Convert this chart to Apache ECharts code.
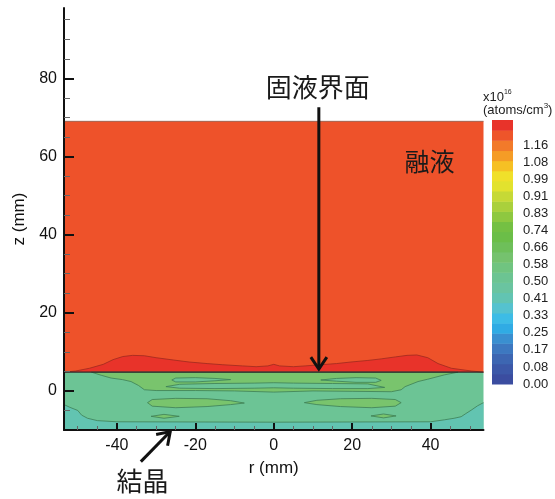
<!DOCTYPE html>
<html><head><meta charset="utf-8">
<script src="https://cdn.jsdelivr.net/npm/echarts@6/dist/echarts.min.js"></script>
<style>html,body{margin:0;padding:0;background:#fff}#c{width:555px;height:499px}</style>
</head><body><div id="c"></div>
<script>
// ---------- axes ----------
const rRange = [-53.5, 53.5];
const zRange = [-10, 98];
const rMajorTicks = [-40, -20, 0, 20, 40];
const rMinorTicks = [-50, -45, -35, -30, -25, -15, -10, -5, 5, 10, 15, 25, 30, 35, 45, 50];
const zMajorTicks = [0, 20, 40, 60, 80];
const zMinorTicks = [-5, 5, 10, 15, 25, 30, 35, 45, 50, 55, 65, 70, 75, 85, 90, 95];

// ---------- contour regions (r mm, z mm) ----------
const meltTopZ = 69;
const interfaceZ = 4.8;
const crystalBottomZ = -10;
const bumpCurve = [[-53.5,4.8],[-50.5,5.1],[-47,5.8],[-43.5,6.8],[-41,8.0],[-38.5,8.8],[-36,9.1],[-33,9.0],[-30,8.5],[-25.5,7.9],[-21.6,7.4],[-17,7.0],[-13,6.7],[-8,6.4],[-4.5,6.2],[-1.5,6.4],[0,6.8],[1.5,6.4],[5,6.2],[8,6.4],[12,6.7],[16,7.0],[19.7,7.4],[24,7.8],[27.4,8.2],[31,8.7],[34,9.1],[36.5,9.2],[39.3,8.5],[41.9,7.0],[45.3,5.8],[50.4,5.1],[53.5,4.8]];
const tealTop = [[-53.5,-3.5],[-52,-4.2],[-50,-5.0],[-49,-6.2],[-47.5,-7.0],[-45,-7.6],[-40,-7.9],[0,-8.0],[40,-7.9],[43.5,-7.4],[46,-7.0],[47.8,-6.6],[49,-5.8],[50.4,-4.9],[52,-3.8],[53.5,-3.0]];
const band1Lower = [[-46.5,4.8],[-44,4.0],[-41.5,3.3],[-38.6,2.9],[-36.4,2.4],[-34.5,1.4],[-33,0.3],[-30,0.1],[-20,0.1],[-10,0],[0,-0.3],[10,0],[20,-0.1],[30,-0.2],[32.5,0.3],[33.5,1.1],[36.8,2.4],[39.3,3.0],[43.5,4.1],[47,4.8]];
const lensUpperLeft = [[-26,2.8],[-25,3.3],[-20,3.4],[-15,3.2],[-11,2.9],[-15,2.6],[-20,2.3],[-25,2.3]];
const lensUpperRight = [[12,2.8],[16,3.2],[21,3.4],[26,3.3],[27.4,2.7],[26,2.2],[21,2.2],[16,2.5]];
const lensMiddle = [[-27.5,1.1],[-24,1.7],[-15,1.9],[-5,2.0],[0,2.1],[5,2.0],[15,1.9],[24,1.8],[28.3,0.9],[24,0.6],[15,0.6],[5,0.7],[0,0.8],[-5,0.7],[-15,0.6],[-24,0.7]];
const lensLowLeft = [[-32.2,-3.0],[-31,-2.2],[-25,-1.9],[-17,-2.0],[-11,-2.5],[-7.5,-3.1],[-11,-3.5],[-17,-4.0],[-25,-4.3],[-31,-3.9]];
const lensLowRight = [[7.8,-3.0],[11,-2.4],[17,-2.0],[25,-1.9],[31,-2.2],[32.5,-3.0],[31,-3.9],[25,-4.3],[17,-4.0],[11,-3.5]];
const lensSmallLeft = [[-31.3,-6.5],[-28,-6.0],[-24.1,-6.5],[-28,-7.0]];
const lensSmallRight = [[24.8,-6.4],[28,-5.9],[31.2,-6.4],[28,-6.9]];

// ---------- colour bar ----------
const cbEdges = [0,0.049,0.098,0.148,0.197,0.246,0.295,0.344,0.394,0.443,0.492,0.541,0.590,0.640,0.689,0.738,0.787,0.836,0.885,0.935,0.984,1.033,1.082,1.131,1.181,1.230,1.279];
const cbColors = ['#3B4DA0','#3C58A8','#3D66B2','#3D78C0','#3A8FD0','#30ABE4','#3DBCE6','#55C2CF','#62C4B2','#6AC4A0','#6CC492','#70C480','#75C26E','#6EBF5A','#6BBE48','#74C043','#8EC840','#AAD03C','#C6D936','#E2E22E','#F0E02A','#F6C024','#F59C26','#F27A2A','#EE552A','#E8332A'];
const cbTickValues = [0,0.0827,0.1654,0.2481,0.3308,0.4135,0.4962,0.5789,0.6616,0.7443,0.827,0.9097,0.9924,1.0751,1.1578];
const cbTickLabels = ['0.00','0.08','0.17','0.25','0.33','0.41','0.50','0.58','0.66','0.74','0.83','0.91','0.99','1.08','1.16'];

// ---------- annotations (data coords) ----------
const arrowInterface = [[11.5,72.6],[11.5,5.6]];
const labelInterfacePos = [11.2,77.8];
const labelMeltPos = [39.7,58.6];
const arrowCrystal = [[-33.9,-18.1],[-26.4,-10.4]];
const labelCrystalPos = [-33.5,-23];

// ---------- styles ----------
const C = {
  melt:'#EE522A', bump:'#E8332A', green:'#6CC495', teal:'#62C4B1', light:'#79C46D',
  edge:'#3E7F55', redEdge:'#9E2A1E'
};
const FONT = '"Liberation Sans", Arial, sans-serif';
const CJK = '"Noto Sans CJK JP", "Noto Sans CJK SC", sans-serif';

function rect(r0, r1, z0, z1){ return [[r0,z0],[r1,z0],[r1,z1],[r0,z1]]; }

const regions = [
  {pts: rect(rRange[0], rRange[1], interfaceZ, meltTopZ), fill: C.melt, stroke: null},
  {pts: bumpCurve.concat([[rRange[1],interfaceZ],[rRange[0],interfaceZ]]), fill: C.bump, stroke: null},
  {pts: rect(rRange[0], rRange[1], crystalBottomZ, interfaceZ), fill: C.green, stroke: null},
  {pts: tealTop.concat([[rRange[1],crystalBottomZ],[rRange[0],crystalBottomZ]]), fill: C.teal, stroke: null},
  {pts: band1Lower, fill: C.light, stroke: C.edge},
  {pts: lensUpperLeft, fill: C.green, stroke: C.edge},
  {pts: lensUpperRight, fill: C.green, stroke: C.edge},
  {pts: lensMiddle, fill: C.green, stroke: C.edge},
  {pts: lensLowLeft, fill: C.light, stroke: C.edge},
  {pts: lensLowRight, fill: C.light, stroke: C.edge},
  {pts: lensSmallLeft, fill: C.light, stroke: C.edge},
  {pts: lensSmallRight, fill: C.light, stroke: C.edge}
];
const edgeLines = [
  {pts: bumpCurve, stroke: C.redEdge, width: 0.8},
  {pts: tealTop, stroke: C.edge, width: 0.8},
  {pts: [[rRange[0], interfaceZ], [rRange[1], interfaceZ]], stroke: '#2a2a2a', width: 1.2},
  {pts: [[rRange[0], meltTopZ], [rRange[1], meltTopZ]], stroke: '#8a5a4a', width: 0.8}
];

const regionSeries = regions.map((reg) => ({
  type: 'custom', xAxisIndex: 0, yAxisIndex: 0, silent: true, z: 1,
  data: reg.pts,
  renderItem: (params, api) => {
    if (params.dataIndex !== 0) return null;
    return {
      type: 'polygon',
      shape: {points: reg.pts.map(p => api.coord(p))},
      style: {fill: reg.fill, stroke: reg.stroke || 'none', lineWidth: reg.stroke ? 0.8 : 0}
    };
  }
}));
const lineSeries = edgeLines.map((ln) => ({
  type: 'custom', xAxisIndex: 0, yAxisIndex: 0, silent: true, z: 1,
  data: ln.pts,
  renderItem: (params, api) => {
    if (params.dataIndex !== 0) return null;
    return {type: 'polyline', shape: {points: ln.pts.map(p => api.coord(p))},
      style: {stroke: ln.stroke, lineWidth: ln.width, fill: null}};
  }
}));

const cbData = cbColors.map((c, i) => [cbEdges[i], cbEdges[i+1], i]);
const cbSeries = {
  type: 'custom', xAxisIndex: 2, yAxisIndex: 2, silent: true,
  data: cbData,
  renderItem: (params, api) => {
    const lo = api.value(0), hi = api.value(1), idx = api.value(2);
    const p0 = api.coord([0, hi]), p1 = api.coord([1, lo]);
    return {type:'rect', shape:{x:p0[0], y:p0[1], width:p1[0]-p0[0], height:p1[1]-p0[1]+0.5},
      style:{fill: cbColors[idx]}};
  }
};

const majorTick = (vals, len) => ({show:true, inside:true, length:len, customValues: vals, lineStyle:{color:'#111', width:2}});
const minorTick = (vals, len) => ({show:true, inside:true, length:len, customValues: vals, lineStyle:{color:'#666', width:1}});

const option = {
  animation: false,
  backgroundColor: '#fff',
  grid: [
    {left: 64, right: 71.5, top: 8, bottom: 69},
    {left: 492, top: 120, width: 21, height: 264}
  ],
  xAxis: [
    {gridIndex:0, type:'value', min:rRange[0], max:rRange[1], position:'bottom', z:10,
     axisLine:{show:true, onZero:false, lineStyle:{color:'#111', width:2}},
     axisTick: majorTick(rMajorTicks, 7),
     axisLabel:{customValues: rMajorTicks, fontSize:16, color:'#111', fontFamily:FONT, margin:8},
     splitLine:{show:false},
     name:'r (mm)', nameLocation:'middle', nameGap:30,
     nameTextStyle:{fontSize:17, color:'#111', fontFamily:FONT}},
    {gridIndex:0, type:'value', min:rRange[0], max:rRange[1], position:'bottom', z:10,
     axisLine:{show:false, onZero:false}, axisTick: minorTick(rMinorTicks, 4),
     axisLabel:{show:false}, splitLine:{show:false}},
    {gridIndex:1, type:'value', min:0, max:1, show:false}
  ],
  yAxis: [
    {gridIndex:0, type:'value', min:zRange[0], max:zRange[1], position:'left', z:10,
     axisLine:{show:true, onZero:false, lineStyle:{color:'#111', width:2}},
     axisTick: majorTick(zMajorTicks, 10),
     axisLabel:{customValues: zMajorTicks, fontSize:16, color:'#111', fontFamily:FONT, margin:7},
     splitLine:{show:false},
     name:'z (mm)', nameLocation:'middle', nameGap:36,
     nameTextStyle:{fontSize:17, color:'#111', fontFamily:FONT}},
    {gridIndex:0, type:'value', min:zRange[0], max:zRange[1], position:'left', z:10,
     axisLine:{show:false, onZero:false}, axisTick: minorTick(zMinorTicks, 6),
     axisLabel:{show:false}, splitLine:{show:false}},
    {gridIndex:1, type:'value', min:cbEdges[0], max:cbEdges[cbEdges.length-1], position:'right',
     axisLine:{show:false}, axisTick:{show:false}, splitLine:{show:false},
     axisLabel:{customValues: cbTickValues, margin:10, fontSize:13, color:'#222', fontFamily:FONT,
       formatter: (v) => { const i = cbTickValues.indexOf(v); return i >= 0 ? cbTickLabels[i] : ''; }}}
  ],
  series: regionSeries.concat(lineSeries, [cbSeries])
};

const chart = echarts.init(document.getElementById('c'), null, {renderer:'canvas'});
chart.setOption(option);

function px(p){ return chart.convertToPixel({xAxisIndex:0, yAxisIndex:0}, p); }
function arrow(a, b){
  const A = px(a), B = px(b);
  const dx = B[0]-A[0], dy = B[1]-A[1], L = Math.hypot(dx, dy);
  const ux = dx/L, uy = dy/L, hl = 12, hw = 8;
  const h1 = [B[0]-ux*hl - uy*hw, B[1]-uy*hl + ux*hw];
  const h2 = [B[0]-ux*hl + uy*hw, B[1]-uy*hl - ux*hw];
  return [
    {type:'polyline', shape:{points:[A, B]}, style:{stroke:'#111', lineWidth:3}, z:100},
    {type:'polyline', shape:{points:[h1, B, h2]}, style:{stroke:'#111', lineWidth:3, fill:null, lineJoin:'miter'}, z:100}
  ];
}
function label(text, pos, size){
  const P = px(pos);
  return {type:'text', x:P[0], y:P[1], z:100,
    style:{text, fontSize:size, fontFamily:CJK, fill:'#1a1a1a', align:'center', verticalAlign:'middle'}};
}
const graphics = [].concat(
  arrow(arrowInterface[0], arrowInterface[1]),
  arrow(arrowCrystal[0], arrowCrystal[1]),
  [label('固液界面', labelInterfacePos, 26), label('融液', labelMeltPos, 25), label('結晶', labelCrystalPos, 26)],
  [
    {type:'text', x:483, y:97, z:100, style:{text:'{a|x10}{s|16}', verticalAlign:'middle',
      rich:{a:{fontSize:13, fontFamily:FONT, fill:'#222'}, s:{fontSize:7, fontFamily:FONT, fill:'#222', padding:[0,0,9,0]}}}},
    {type:'text', x:483, y:110, z:100, style:{text:'{a|(atoms/cm}{s|3}{a|)}', verticalAlign:'middle',
      rich:{a:{fontSize:13, fontFamily:FONT, fill:'#222'}, s:{fontSize:8, fontFamily:FONT, fill:'#222', padding:[0,0,8,0]}}}}
  ]
);
chart.setOption({graphic: graphics});
</script>
</body></html>
